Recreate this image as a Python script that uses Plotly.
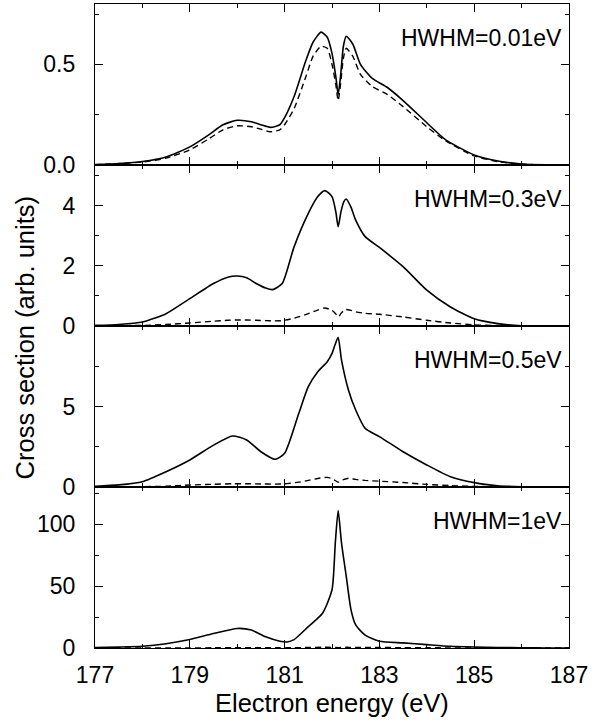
import plotly.graph_objects as go
from plotly.subplots import make_subplots

# ---------------- data ----------------
# Panel 1: HWHM = 0.01 eV
E1 = [177, 177.5, 178, 178.5, 179, 179.4, 179.7, 180, 180.3, 180.5, 180.7, 180.9, 181,
      181.2, 181.45, 181.6, 181.77, 181.9, 182.0, 182.08, 182.13, 182.18, 182.24, 182.3,
      182.44, 182.6, 182.85, 183.17, 183.5, 184, 184.4, 185, 185.5, 186, 186.5, 187]
solid1 = [0.002, 0.007, 0.017, 0.04, 0.09, 0.15, 0.2, 0.222, 0.215, 0.2, 0.187, 0.2, 0.235,
          0.34, 0.52, 0.61, 0.66, 0.635, 0.555, 0.44, 0.35, 0.44, 0.59, 0.64,
          0.6, 0.5, 0.43, 0.385, 0.32, 0.21, 0.125, 0.05, 0.02, 0.005, 0.001, 0.0]
dash1 = [0.002, 0.007, 0.015, 0.034, 0.075, 0.13, 0.175, 0.195, 0.19, 0.178, 0.165, 0.175, 0.2,
         0.28, 0.44, 0.54, 0.59, 0.58, 0.5, 0.4, 0.32, 0.4, 0.53, 0.58,
         0.54, 0.45, 0.39, 0.35, 0.29, 0.19, 0.12, 0.045, 0.017, 0.004, 0.001, 0.0]

# Panel 2: HWHM = 0.3 eV
E2 = [177, 177.5, 178, 178.5, 179, 179.5, 179.8, 180, 180.2, 180.4, 180.6, 180.75, 180.95,
      181.2, 181.5, 181.7, 181.85, 182.0, 182.08, 182.13, 182.19, 182.25, 182.3, 182.4,
      182.5, 182.7, 183, 183.5, 184, 184.5, 185, 185.5, 186, 186.5, 187]
solid2 = [0.02, 0.05, 0.13, 0.41, 0.91, 1.41, 1.62, 1.66, 1.6, 1.41, 1.26, 1.21, 1.41,
          2.63, 3.74, 4.3, 4.5, 4.3, 3.8, 3.3, 3.8, 4.13, 4.22, 3.95,
          3.52, 2.97, 2.61, 1.97, 1.19, 0.63, 0.24, 0.08, 0.01, 0.0, 0.0]
dash2 = [0.0, 0.01, 0.02, 0.05, 0.1, 0.16, 0.19, 0.2, 0.2, 0.19, 0.18, 0.17, 0.18,
         0.26, 0.41, 0.53, 0.6, 0.52, 0.4, 0.3, 0.42, 0.52, 0.55, 0.52,
         0.47, 0.42, 0.39, 0.3, 0.19, 0.1, 0.04, 0.015, 0.003, 0.0, 0.0]

# Panel 3: HWHM = 0.5 eV
E3 = [177, 177.5, 178, 178.5, 179, 179.5, 179.9, 180.2, 180.5, 180.8, 181, 181.3, 181.5,
      181.7, 181.9, 182.0, 182.06, 182.13, 182.2, 182.35, 182.5, 182.7, 183, 183.5,
      184, 184.5, 185, 185.5, 186, 186.5, 187]
solid3 = [0.05, 0.13, 0.33, 0.95, 1.68, 2.6, 3.17, 2.92, 2.19, 1.72, 2.09, 4.58, 6.23,
          7.16, 7.78, 8.3, 8.8, 9.3, 7.9, 6.0, 4.78, 3.64, 3.13, 2.19,
          1.37, 0.64, 0.27, 0.08, 0.02, 0.0, 0.0]
dash3 = [0.0, 0.01, 0.02, 0.05, 0.12, 0.17, 0.2, 0.2, 0.19, 0.18, 0.2, 0.3, 0.41,
         0.53, 0.6, 0.52, 0.42, 0.3, 0.42, 0.54, 0.47, 0.41, 0.36, 0.28,
         0.16, 0.09, 0.04, 0.015, 0.003, 0.0, 0.0]

# Panel 4: HWHM = 1 eV
E4 = [177, 177.5, 178, 178.5, 179, 179.5, 180, 180.3, 180.6, 180.9, 181.05, 181.2, 181.5,
      181.8, 182.0, 182.07, 182.13, 182.2, 182.3, 182.4, 182.5, 182.7, 183, 183.5,
      184, 184.5, 185, 185.5, 186, 186.5, 187]
solid4 = [0.3, 0.7, 1.4, 3.5, 6.8, 11.7, 15.8, 14.5, 9.0, 5.5, 4.9, 6.8, 17.2,
          28, 47, 85, 111, 85, 58, 31, 18.6, 10.4, 5.5, 4.1,
          2.7, 1.4, 0.8, 0.4, 0.2, 0.05, 0.0]
dash4 = [0.0, 0.01, 0.02, 0.05, 0.1, 0.16, 0.2, 0.2, 0.19, 0.18, 0.18, 0.22, 0.41,
         0.6, 0.52, 0.4, 0.3, 0.42, 0.55, 0.52, 0.47, 0.42, 0.39, 0.3,
         0.19, 0.1, 0.04, 0.015, 0.003, 0.0, 0.0]

panel_labels = ["HWHM=0.01eV", "HWHM=0.3eV", "HWHM=0.5eV", "HWHM=1eV"]
x_tickvals = [177, 179, 181, 183, 185, 187]
x_ticktext = ["177", "179", "181", "183", "185", "187"]

# ---------------- figure ----------------
FONT = "Liberation Sans, Arial, sans-serif"
TICK_FS = 23
LABEL_FS = 23
TITLE_FS = 25.5

fig = make_subplots(rows=4, cols=1, shared_xaxes=True, vertical_spacing=0)

panels = [(E1, solid1, dash1), (E2, solid2, dash2), (E3, solid3, dash3), (E4, solid4, dash4)]
for i, (E, s, d) in enumerate(panels, start=1):
    fig.add_trace(go.Scatter(x=E, y=d, mode="lines",
                             line=dict(color="black", width=1.4, dash="6px,4px",
                                       shape="spline", smoothing=0.6),
                             showlegend=False), row=i, col=1)
    fig.add_trace(go.Scatter(x=E, y=s, mode="lines",
                             line=dict(color="black", width=1.6, shape="spline", smoothing=0.6),
                             showlegend=False), row=i, col=1)

common_axis = dict(showline=True, linecolor="black", linewidth=1.2, mirror="allticks",
                   ticks="inside", ticklen=8, tickwidth=1.2, tickcolor="black",
                   showgrid=False, zeroline=False,
                   tickfont=dict(family=FONT, size=TICK_FS, color="black"))

for i in range(1, 5):
    fig.update_xaxes(range=[177, 187], tickmode="array", tickvals=x_tickvals,
                     ticktext=x_ticktext, showticklabels=(i == 4),
                     minor=dict(ticks="inside", ticklen=4, tickwidth=1.2, tickcolor="black",
                                dtick=1, tick0=177, showgrid=False),
                     ticklabelstandoff=6,
                     **common_axis, row=i, col=1)

yconf = [
    dict(range=[0, 0.8], tickvals=[0, 0.5], ticktext=["0.0", "0.5"], minor_dtick=0.25),
    dict(range=[0, 5.35], tickvals=[0, 2, 4], ticktext=["0", "2", "4"], minor_dtick=1),
    dict(range=[0, 10], tickvals=[0, 5], ticktext=["0", "5"], minor_dtick=2.5),
    dict(range=[0, 130], tickvals=[0, 50, 100], ticktext=["0", "50", "100"], minor_dtick=25),
]
for i, c in enumerate(yconf, start=1):
    fig.update_yaxes(range=c["range"], tickmode="array", tickvals=c["tickvals"],
                     ticktext=c["ticktext"],
                     minor=dict(ticks="inside", ticklen=4, tickwidth=1.2, tickcolor="black",
                                dtick=c["minor_dtick"], tick0=0, showgrid=False),
                     ticklabelstandoff=14,
                     **common_axis, row=i, col=1)

for i, lab in enumerate(panel_labels, start=1):
    yref = "y domain" if i == 1 else f"y{i} domain"
    fig.add_annotation(text=lab, xref="paper", x=0.99, xanchor="right",
                       yref=yref, y=0.79, yanchor="middle", showarrow=False,
                       font=dict(family=FONT, size=LABEL_FS, color="black"))

fig.add_annotation(text="Cross section (arb. units)", textangle=-90,
                   xref="paper", x=-0.148, xanchor="center",
                   yref="paper", y=0.482, yanchor="middle", showarrow=False,
                   font=dict(family=FONT, size=TITLE_FS, color="black"))
fig.add_annotation(text="Electron energy (eV)",
                   xref="paper", x=0.5, xanchor="center",
                   yref="paper", y=-0.086, yanchor="middle", showarrow=False,
                   font=dict(family=FONT, size=TITLE_FS, color="black"))

fig.update_layout(width=608, height=723,
                  margin=dict(l=95, r=39, t=4, b=75),
                  paper_bgcolor="white", plot_bgcolor="white",
                  font=dict(family=FONT, size=TICK_FS, color="black"))

fig.write_html("out.html")
